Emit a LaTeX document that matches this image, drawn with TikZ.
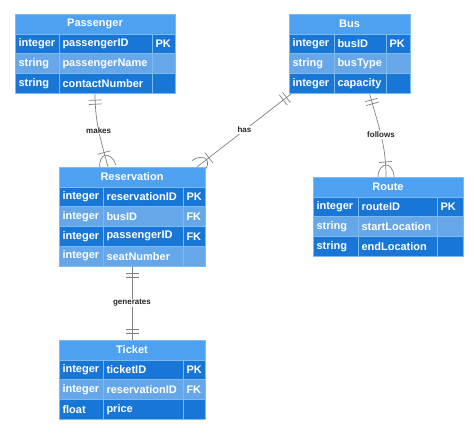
\documentclass[tikz,border=0pt]{standalone}
\usepackage{fontspec}
\setmainfont{Liberation Sans}
\usetikzlibrary{positioning, fit, calc, backgrounds, decorations.markings}
\definecolor{cHeadFill}{RGB}{77, 161, 240}
\definecolor{cDarkFill}{RGB}{24, 119, 214}
\definecolor{cLightFill}{RGB}{101, 167, 233}
\definecolor{cBorder}{RGB}{126, 186, 242}
\definecolor{lineColor}{RGB}{128, 128, 128}
\tikzset{
    % --- 表格单元 ---
    cellBase/.style={
        rectangle, draw=cBorder, line width=0.5pt,
        text=white, font=\fontsize{11}{13}\selectfont\bfseries,
        inner xsep=3.5pt, inner ysep=0pt, outer sep=0pt,
        minimum height=19.8pt, align=left
    },
    head/.style={ cellBase, fill=cHeadFill, align=center, text width=#1 },
    cellD/.style={ cellBase, fill=cDarkFill, text width=#1 },
    cellL/.style={ cellBase, fill=cLightFill, text width=#1 },
    tableBox/.style={ inner sep=0pt, outer sep=0pt },
    %
    % --- 连线与标签 ---
    conn/.style={
        draw=lineColor, line width=0.7pt
    },
    startOne/.style={
        postaction={decorate, decoration={markings,
            mark=at position 7pt with {\draw[lineColor, line width=0.7pt] (0pt,-6.5pt) -- (0pt,6.5pt);},
            mark=at position 11pt with {\draw[lineColor, line width=0.7pt] (0pt,-6.5pt) -- (0pt,6.5pt);}}}
    },
    endOne/.style={
        postaction={decorate, decoration={markings,
            mark=at position -11pt with {\draw[lineColor, line width=0.7pt] (0pt,-6.5pt) -- (0pt,6.5pt);},
            mark=at position -7pt with {\draw[lineColor, line width=0.7pt] (0pt,-6.5pt) -- (0pt,6.5pt);}}}
    },
    endMany/.style={
        postaction={decorate, decoration={markings,
            mark=at position -15pt with {\draw[lineColor, line width=0.7pt] (0pt,-6.5pt) -- (0pt,6.5pt);},
            mark=at position -0.1pt with {\draw[lineColor, line width=0.7pt]
                (0pt,8pt) .. controls (-8pt,8pt) and (-12pt,3pt) .. (-12pt,0pt)
                .. controls (-12pt,-3pt) and (-8pt,-8pt) .. (0pt,-8pt);}}}
    },
    relLabel/.style={
        midway, fill=white, text=black!85, inner sep=1pt,
        font=\fontsize{8}{9}\selectfont\bfseries
    }
}

\begin{document}
\begin{tikzpicture}[x=1pt, y=1pt]

	\useasboundingbox (0,0) rectangle (474,-434);

	% =========================================
	% 1. 实体表
	% =========================================

	% Passenger
	\node [head=153pt, anchor=north west] (pasH) at (15,-14) {Passenger};
	\node [cellD=37pt, anchor=north west] (pas1t) at (pasH.south west) {integer};
	\node [cellD=86pt, right=0pt of pas1t] (pas1n) {passengerID};
	\node [cellD=16pt, right=0pt of pas1n] (pas1k) {PK};
	\node [cellL=37pt, anchor=north west] (pas2t) at (pas1t.south west) {string};
	\node [cellL=86pt, right=0pt of pas2t] (pas2n) {passengerName};
	\node [cellL=16pt, right=0pt of pas2n] (pas2k) {};
	\node [cellD=37pt, anchor=north west] (pas3t) at (pas2t.south west) {string};
	\node [cellD=86pt, right=0pt of pas3t] (pas3n) {contactNumber};
	\node [cellD=16pt, right=0pt of pas3n] (pas3k) {};
	\node [tableBox, fit=(pasH)(pas3k)] (pas) {};

	% Bus
	\node [head=114pt, anchor=north west] (busH) at (289,-14) {Bus};
	\node [cellD=38pt, anchor=north west] (bus1t) at (busH.south west) {integer};
	\node [cellD=45pt, right=0pt of bus1t] (bus1n) {busID};
	\node [cellD=17pt, right=0pt of bus1n] (bus1k) {PK};
	\node [cellL=38pt, anchor=north west] (bus2t) at (bus1t.south west) {string};
	\node [cellL=45pt, right=0pt of bus2t] (bus2n) {busType};
	\node [cellL=17pt, right=0pt of bus2n] (bus2k) {};
	\node [cellD=38pt, anchor=north west] (bus3t) at (bus2t.south west) {integer};
	\node [cellD=45pt, right=0pt of bus3t] (bus3n) {capacity};
	\node [cellD=17pt, right=0pt of bus3n] (bus3k) {};
	\node [tableBox, fit=(busH)(bus3k)] (bus) {};

	% Reservation
	\node [head=139pt, anchor=north west] (resH) at (59,-167) {Reservation};
	\node [cellD=37pt, anchor=north west] (res1t) at (resH.south west) {integer};
	\node [cellD=73pt, right=0pt of res1t] (res1n) {reservationID};
	\node [cellD=15pt, right=0pt of res1n] (res1k) {PK};
	\node [cellL=37pt, anchor=north west] (res2t) at (res1t.south west) {integer};
	\node [cellL=73pt, right=0pt of res2t] (res2n) {busID};
	\node [cellL=15pt, right=0pt of res2n] (res2k) {FK};
	\node [cellD=37pt, anchor=north west] (res3t) at (res2t.south west) {integer};
	\node [cellD=73pt, right=0pt of res3t] (res3n) {passengerID};
	\node [cellD=15pt, right=0pt of res3n] (res3k) {FK};
	\node [cellL=37pt, anchor=north west] (res4t) at (res3t.south west) {integer};
	\node [cellL=73pt, right=0pt of res4t] (res4n) {seatNumber};
	\node [cellL=15pt, right=0pt of res4n] (res4k) {};
	\node [tableBox, fit=(resH)(res4k)] (res) {};

	% Ticket
	\node [head=139pt, anchor=north west] (ticH) at (59,-340) {Ticket};
	\node [cellD=37pt, anchor=north west] (tic1t) at (ticH.south west) {integer};
	\node [cellD=73pt, right=0pt of tic1t] (tic1n) {ticketID};
	\node [cellD=15pt, right=0pt of tic1n] (tic1k) {PK};
	\node [cellL=37pt, anchor=north west] (tic2t) at (tic1t.south west) {integer};
	\node [cellL=73pt, right=0pt of tic2t] (tic2n) {reservationID};
	\node [cellL=15pt, right=0pt of tic2n] (tic2k) {FK};
	\node [cellD=37pt, anchor=north west] (tic3t) at (tic2t.south west) {float};
	\node [cellD=73pt, right=0pt of tic3t] (tic3n) {price};
	\node [cellD=15pt, right=0pt of tic3n] (tic3k) {};
	\node [tableBox, fit=(ticH)(tic3k)] (tic) {};

	% Route
	\node [head=143pt, anchor=north west] (rouH) at (313,-177) {Route};
	\node [cellD=38pt, anchor=north west] (rou1t) at (rouH.south west) {integer};
	\node [cellD=72pt, right=0pt of rou1t] (rou1n) {routeID};
	\node [cellD=19pt, right=0pt of rou1n] (rou1k) {PK};
	\node [cellL=38pt, anchor=north west] (rou2t) at (rou1t.south west) {string};
	\node [cellL=72pt, right=0pt of rou2t] (rou2n) {startLocation};
	\node [cellL=19pt, right=0pt of rou2n] (rou2k) {};
	\node [cellD=38pt, anchor=north west] (rou3t) at (rou2t.south west) {string};
	\node [cellD=72pt, right=0pt of rou3t] (rou3n) {endLocation};
	\node [cellD=19pt, right=0pt of rou3n] (rou3k) {};
	\node [tableBox, fit=(rouH)(rou3k)] (rou) {};

	% =========================================
	% 2. 关系连线
	% =========================================

	\begin{scope}[on background layer]
		% [makes]
		\draw [conn, startOne, endMany] (pas.south) to[out=-90, in=105]
		node[relLabel] {makes} ($(res.north)+(-24,0)$);

		% [has]
		\draw [conn, startOne, endMany] ($(bus.south west)+(3,0)$) --
		node[relLabel] {has} ($(res.north east)+(-8,0)$);

		% [follows]
		\draw [conn, startOne, endMany] ($(bus.south)+(20,0)$) to[out=-75, in=90]
		node[relLabel] {follows} ($(rou.north)+(-2,0)$);

		% [generates]
		\draw [conn, startOne, endOne] (res.south) -- node[relLabel] {generates} (tic.north);
	\end{scope}

\end{tikzpicture}
\end{document}
